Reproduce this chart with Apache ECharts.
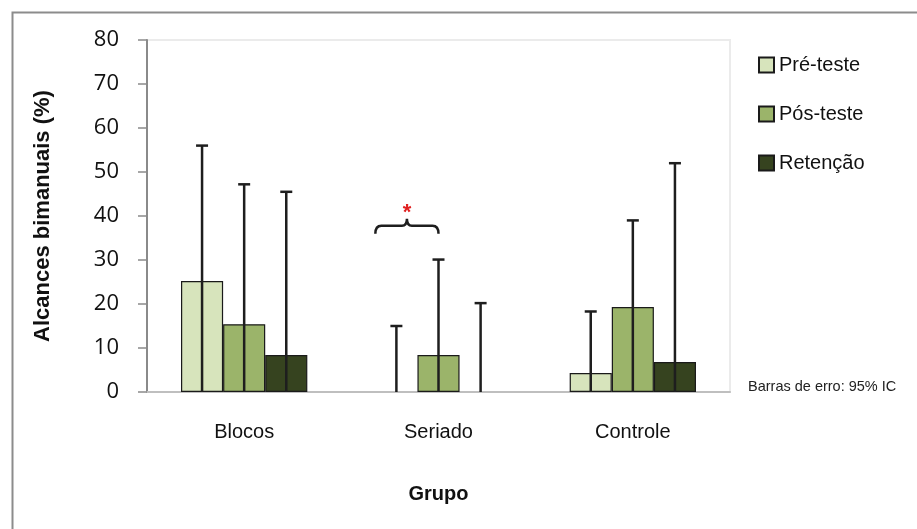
<!DOCTYPE html>
<html>
<head>
<meta charset="utf-8">
<script src="https://cdn.jsdelivr.net/npm/echarts@6/dist/echarts.min.js"></script>
<style>
  html, body { margin: 0; padding: 0; background: #fff; }
  #chart { width: 917px; height: 529px; }
</style>
</head>
<body>
<div id="chart"></div>
<script>
// data
var grupos = ['Blocos', 'Seriado', 'Controle'];
var seriesNames = ['Pré-teste', 'Pós-teste', 'Retenção'];
var preTeste = [25.2, 0, 4.3];
var posTeste = [15.4, 8.4, 19.3];
var retencao = [8.4, 0, 6.8];
// 95% IC upper ends (lower ends sit on the axis)
var preSup = [56, 15, 18.3];
var posSup = [47.2, 30.1, 39];
var retSup = [45.5, 20.2, 52];
var preInf = [0, 0, 0];
var posInf = [0, 0, 0];
var retInf = [0, 0, 0];
var yTicks = [0, 10, 20, 30, 40, 50, 60, 70, 80];

var colors = ['#d7e4bc', '#9bb46a', '#36431f'];
var gapRatio = 0.35;

var chart = echarts.init(document.getElementById('chart'));

// zero-height bars draw no outline
function barData(arr) {
    return arr.map(function (v) {
        return v === 0 ? { value: v, itemStyle: { borderWidth: 0 } } : v;
    });
}

function errSeries(idx, inf, sup) {
    return {
        type: 'custom',
        name: 'err' + idx,
        silent: true,
        z: 5,
        data: grupos.map(function (g, i) { return [i, inf[i], sup[i]]; }),
        renderItem: function (params, api) {
            var band = api.size([1, 0])[0];
            var bw = band * (1 - gapRatio) / 3;
            var c = api.coord([api.value(0), api.value(2)]);
            var b = api.coord([api.value(0), api.value(1)]);
            var x = c[0] + (idx - 1) * bw;
            var st = { stroke: '#1e1e1e', lineWidth: 2.5 };
            return {
                type: 'group',
                children: [
                    { type: 'line', shape: { x1: x, y1: b[1], x2: x, y2: c[1] }, style: st },
                    { type: 'line', shape: { x1: x - 6, y1: c[1], x2: x + 6, y2: c[1] }, style: st }
                ]
            };
        }
    };
}

var option = {
    animation: false,
    textStyle: { fontFamily: 'Liberation Sans, Arial, sans-serif' },
    grid: {
        left: 147, top: 40, right: 187, bottom: 137,
        show: true, borderColor: '#ebebeb', borderWidth: 2, backgroundColor: '#fff'
    },
    legend: {
        orient: 'vertical',
        left: 753, top: 50,
        icon: 'rect',
        itemWidth: 15, itemHeight: 15, itemGap: 29,
        data: seriesNames,
        textStyle: { fontSize: 20, color: '#111', padding: [0, 0, 0, 0], fontFamily: 'Liberation Sans, Arial, sans-serif' }
    },
    xAxis: {
        type: 'category',
        data: grupos,
        name: 'Grupo',
        nameLocation: 'middle',
        nameGap: 92,
        nameTextStyle: { fontSize: 20, fontWeight: 'bold', color: '#111' },
        axisLine: { lineStyle: { color: '#bfbfbf', width: 2 } },
        axisTick: { length: 8, lineStyle: { color: '#bfbfbf', width: 2 } },
        axisLabel: { fontSize: 20, color: '#111', margin: 30 }
    },
    yAxis: {
        type: 'value',
        min: 0, max: 80, interval: 10,
        name: 'Alcances bimanuais (%)',
        nameLocation: 'middle',
        nameGap: 93,
        nameTextStyle: { fontSize: 22, fontWeight: 'bold', color: '#111' },
        splitLine: { show: false },
        axisLine: { show: true, lineStyle: { color: '#8a8a8a', width: 2 } },
        axisTick: { show: true, length: 9, lineStyle: { color: '#8a8a8a', width: 1.5 } },
        axisLabel: {
            fontSize: 22, color: '#111', margin: 28,
            fontFamily: 'Open Sans, Liberation Sans, sans-serif',
            formatter: function (v) { return yTicks.indexOf(v) >= 0 ? String(v) : ''; }
        }
    },
    series: [
        {
            name: seriesNames[0], type: 'bar', data: barData(preTeste),
            barGap: '0%', barCategoryGap: (gapRatio * 100) + '%',
            itemStyle: { color: colors[0], borderColor: '#1a1a1a', borderWidth: 1.2 }
        },
        {
            name: seriesNames[1], type: 'bar', data: barData(posTeste),
            barGap: '0%', barCategoryGap: (gapRatio * 100) + '%',
            itemStyle: { color: colors[1], borderColor: '#1a1a1a', borderWidth: 1.2 }
        },
        {
            name: seriesNames[2], type: 'bar', data: barData(retencao),
            barGap: '0%', barCategoryGap: (gapRatio * 100) + '%',
            itemStyle: { color: colors[2], borderColor: '#1a1a1a', borderWidth: 1.2 }
        },
        errSeries(0, preInf, preSup),
        errSeries(1, posInf, posSup),
        errSeries(2, retInf, retSup),
        {
            // chave com asterisco sobre Seriado
            type: 'custom',
            name: 'brace',
            silent: true,
            z: 6,
            data: [[1, 37.8]],
            renderItem: function (params, api) {
                var band = api.size([1, 0])[0];
                var bw = band * (1 - gapRatio) / 3;
                var c = api.coord([api.value(0), api.value(1)]);
                var x1 = c[0] - 1.5 * bw;
                var x2 = c[0];
                var xm = (x1 + x2) / 2;
                var y = c[1];
                var p = 'M' + x1 + ' ' + (y + 8) + ' Q' + x1 + ' ' + y + ' ' + (x1 + 6) + ' ' + y +
                    ' L' + (xm - 5) + ' ' + y + ' Q' + xm + ' ' + y + ' ' + xm + ' ' + (y - 7) +
                    ' Q' + xm + ' ' + y + ' ' + (xm + 5) + ' ' + y +
                    ' L' + (x2 - 6) + ' ' + y + ' Q' + x2 + ' ' + y + ' ' + x2 + ' ' + (y + 8);
                return {
                    type: 'group',
                    children: [
                        { type: 'path', shape: { pathData: p }, style: { fill: null, stroke: '#1e1e1e', lineWidth: 2.5 } },
                        {
                            type: 'text', x: xm, y: y - 13,
                            style: { text: '*', fill: '#e02020', fontSize: 22, fontWeight: 'bold', align: 'center', verticalAlign: 'middle', fontFamily: 'Liberation Sans, Arial, sans-serif' }
                        }
                    ]
                };
            }
        }
    ],
    graphic: [
        {
            type: 'rect', left: 10, top: 10, silent: true,
            shape: { width: 1000, height: 1000 },
            style: { fill: null, stroke: '#8c8c8c', lineWidth: 2 }
        },
        {
            type: 'text', left: 748, top: 379,
            style: { text: 'Barras de erro: 95% IC', fontSize: 14.5, fill: '#222', fontFamily: 'Liberation Sans, Arial, sans-serif' }
        }
    ]
};

chart.setOption(option);
</script>
</body>
</html>
